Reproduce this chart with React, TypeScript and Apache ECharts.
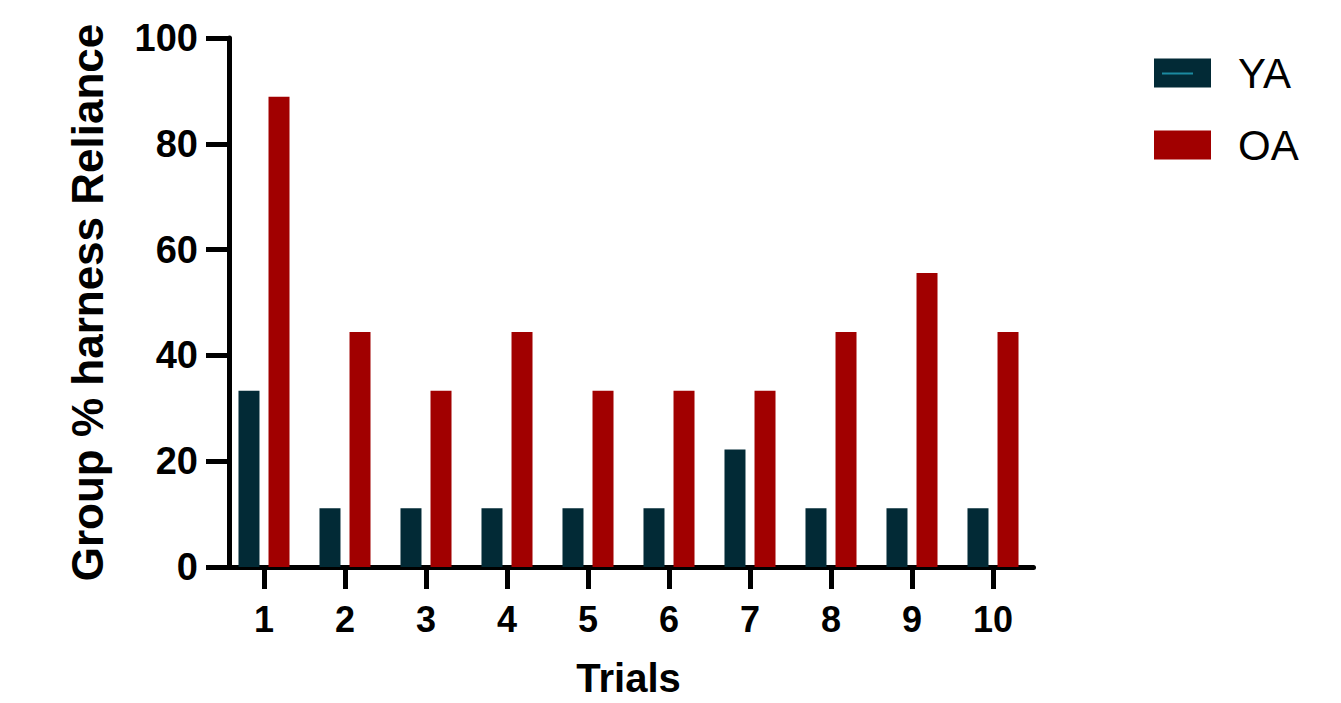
import React, { useEffect, useRef } from "react";
import * as echarts from "echarts";

const categories = ["1", "2", "3", "4", "5", "6", "7", "8", "9", "10"];
const yaValues = [33.3, 11.1, 11.1, 11.1, 11.1, 11.1, 22.2, 11.1, 11.1, 11.1];
const oaValues = [88.9, 44.4, 33.3, 44.4, 33.3, 33.3, 33.3, 44.4, 55.6, 44.4];
const seriesNames = ["YA", "OA"];

const FONT = "'Liberation Sans', Arial, Helvetica, sans-serif";

export default function App() {
  const ref = useRef<HTMLDivElement>(null);
  useEffect(() => {
    if (!ref.current) return;
    const chart = echarts.init(ref.current, null, { renderer: "svg" });
    chart.setOption({
      animation: false,
      backgroundColor: "#ffffff",
      textStyle: { fontFamily: FONT },
      grid: { left: 223.5, top: 38, width: 810, height: 532, containLabel: false },
      legend: {
        orient: "vertical",
        left: 1149,
        top: 47,
        itemWidth: 57,
        itemHeight: 29,
        itemGap: 30,
        icon: "rect",
        data: seriesNames,
        textStyle: { fontSize: 42, fontFamily: FONT, color: "#000", padding: [0, 0, 0, 22] },
      },
      xAxis: {
        type: "category",
        data: categories,
        name: "Trials",
        nameLocation: "middle",
        nameGap: 91,
        nameTextStyle: { fontSize: 40, fontWeight: "bold", color: "#000", fontFamily: FONT },
        axisLine: { show: true, lineStyle: { color: "#000", width: 5 } },
        axisTick: { show: true, alignWithLabel: true, length: 22, lineStyle: { color: "#000", width: 5 } },
        axisLabel: { fontSize: 36, fontWeight: "bold", color: "#000", margin: 34, fontFamily: FONT },
        splitLine: { show: false },
      },
      yAxis: {
        type: "value",
        min: 0,
        max: 100,
        interval: 20,
        offset: -5.5,
        name: "Group % harness Reliance",
        nameLocation: "middle",
        nameGap: 120,
        nameTextStyle: { fontSize: 44, fontWeight: "bold", color: "#000", fontFamily: FONT },
        axisLine: { show: true, lineStyle: { color: "#000", width: 5 } },
        axisTick: { show: true, length: 23, lineStyle: { color: "#000", width: 5 } },
        axisLabel: { fontSize: 38, fontWeight: "bold", color: "#000", margin: 31, fontFamily: FONT },
        splitLine: { show: false },
      },
      series: [
        {
          name: seriesNames[0],
          type: "bar",
          data: yaValues,
          barWidth: 21,
          barGap: "43%",
          itemStyle: { color: "#022a36" },
        },
        {
          name: seriesNames[1],
          type: "bar",
          data: oaValues,
          barWidth: 21,
          barGap: "43%",
          itemStyle: { color: "#a10000" },
        },
      ],
      graphic: [
        {
          type: "line",
          shape: { x1: 1162, y1: 73.5, x2: 1193, y2: 73.5 },
          style: { stroke: "#1b8aa0", lineWidth: 2 },
          z: 100,
        },
      ],
    });
    return () => chart.dispose();
  }, []);
  return <div ref={ref} style={{ width: 1341, height: 703, position: "absolute", left: 0, top: 0 }} />;
}
